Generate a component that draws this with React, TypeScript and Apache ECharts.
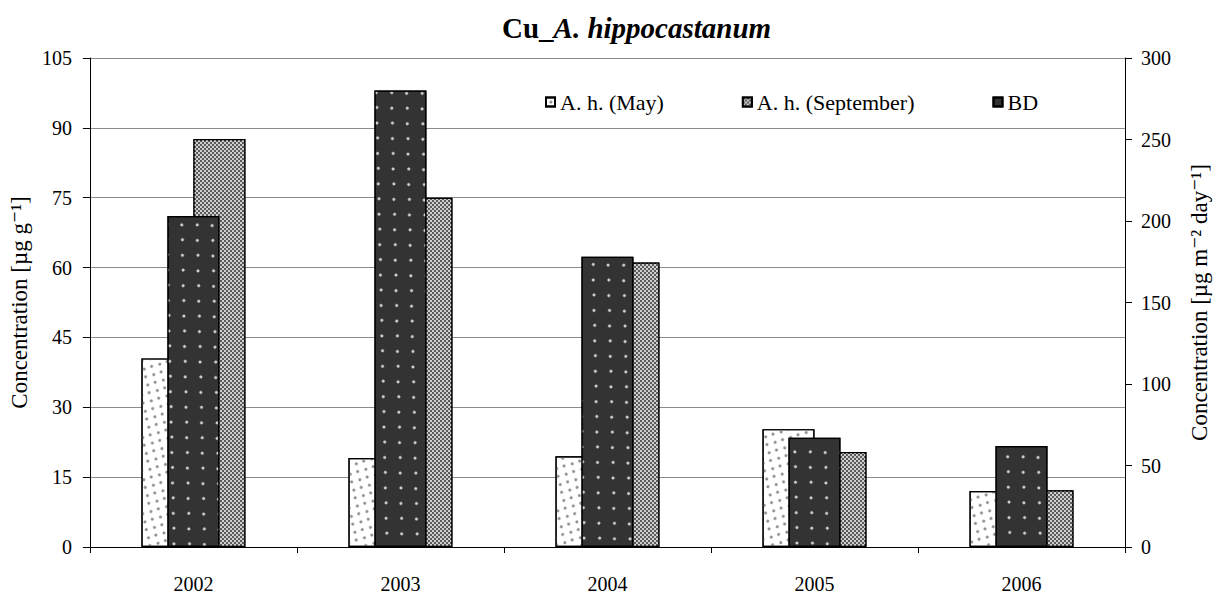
import React, { useEffect, useRef } from "react";
import * as echarts from "echarts";

const years = ["2002", "2003", "2004", "2005", "2006"];
const mayValues = [40.5, 19.1, 19.5, 25.3, 12.0];
const septValues = [87.6, 75.0, 61.1, 20.4, 12.2];
const bdValues = [203, 280, 178, 67, 62];
const leftTicks = { min: 0, max: 105, interval: 15 };
const rightTicks = { min: 0, max: 300, interval: 50 };

const FONT = "'Liberation Serif', 'DejaVu Serif', serif";

export default function App() {
  const ref = useRef<HTMLDivElement>(null);
  useEffect(() => {
    if (!ref.current) return;
    const chart = echarts.init(ref.current, null, { renderer: "svg" });
    chart.setOption({
      animation: false,
      aria: { enabled: true, decal: { show: true } },
      textStyle: { fontFamily: FONT, color: "#000" },
      title: {
        text: "{b|Cu_}{bi|A. hippocastanum}",
        left: 497,
        top: 8,
        textStyle: {
          rich: {
            b: { fontFamily: FONT, fontWeight: "bold", fontSize: 29, color: "#000" },
            bi: { fontFamily: FONT, fontWeight: "bold", fontStyle: "italic", fontSize: 29, color: "#000" },
          },
        },
      },
      legend: {
        left: 540,
        top: 86,
        icon: "rect",
        itemWidth: 9,
        itemHeight: 9,
        itemGap: 78,
        textStyle: { fontFamily: FONT, fontSize: 22, color: "#000" },
        data: ["A. h. (May)", "A. h. (September)", "BD"],
      },
      grid: { left: 88, right: 92, top: 58, bottom: 46 },
      xAxis: [
        {
          type: "category",
          data: years,
          boundaryGap: true,
          axisLine: { lineStyle: { color: "#000", width: 1 } },
          axisTick: { show: true, length: 6, lineStyle: { color: "#000" } },
          axisLabel: { fontFamily: FONT, fontSize: 20, color: "#000", margin: 27 },
        },
        { type: "category", data: years, show: false },
      ],
      yAxis: [
        {
          type: "value",
          ...leftTicks,
          name: "Concentration [µg g⁻¹]",
          nameLocation: "middle",
          nameRotate: 90,
          nameGap: 54,
          nameTextStyle: { fontFamily: FONT, fontSize: 23, color: "#000" },
          axisLine: { show: true, lineStyle: { color: "#000" } },
          axisTick: { show: true, length: 7, lineStyle: { color: "#000" } },
          axisLabel: { fontFamily: FONT, fontSize: 20, color: "#000", margin: 18 },
          splitLine: { show: true, lineStyle: { color: "#8c8c8c", width: 1 } },
        },
        {
          type: "value",
          ...rightTicks,
          position: "right",
          name: "Concentration [µg m⁻² day⁻¹]",
          nameLocation: "middle",
          nameRotate: 90,
          nameGap: 63,
          nameTextStyle: { fontFamily: FONT, fontSize: 23, color: "#000" },
          axisLine: { show: true, lineStyle: { color: "#000" } },
          axisTick: { show: true, length: 7, lineStyle: { color: "#000" } },
          axisLabel: { fontFamily: FONT, fontSize: 20, color: "#000", margin: 16 },
          splitLine: { show: false },
        },
      ],
      series: [
        {
          name: "A. h. (May)",
          type: "bar",
          xAxisIndex: 0,
          yAxisIndex: 0,
          data: mayValues,
          barWidth: 52,
          barGap: "0%",
          itemStyle: {
            color: "#ffffff",
            borderColor: "#000",
            borderWidth: 1.2,
            decal: {
              symbol: "circle",
              symbolSize: 1,
              color: "#8a8a8a",
              dashArrayX: [[2.4, 7.6], [0, 5, 2.4, 2.6]],
              dashArrayY: [2.4, 2.6],
            },
          },
        },
        {
          name: "A. h. (September)",
          type: "bar",
          xAxisIndex: 0,
          yAxisIndex: 0,
          data: septValues,
          barWidth: 52,
          barGap: "0%",
          itemStyle: {
            color: "#5a5a5a",
            borderColor: "#000",
            borderWidth: 1.2,
            decal: {
              symbol: "rect",
              symbolSize: 1,
              color: "#cfcfcf",
              dashArrayX: [[1.5, 1.5], [0, 1.5, 1.5, 0]],
              dashArrayY: [1.5, 0],
            },
          },
        },
        {
          name: "BD",
          type: "bar",
          xAxisIndex: 1,
          yAxisIndex: 1,
          data: bdValues,
          barWidth: 52,
          itemStyle: {
            color: "#333333",
            borderColor: "#000",
            borderWidth: 1.2,
            decal: {
              symbol: "circle",
              symbolSize: 1,
              color: "#d8d8d8",
              dashArrayX: [[2.6, 17.4], [0, 10, 2.6, 7.4]],
              dashArrayY: [2.6, 7.4],
            },
          },
        },
      ],
    });
    return () => chart.dispose();
  }, []);
  return (
    <div
      ref={ref}
      style={{ position: "absolute", left: 0, top: 0, width: 1219, height: 594, background: "#fff" }}
    />
  );
}
